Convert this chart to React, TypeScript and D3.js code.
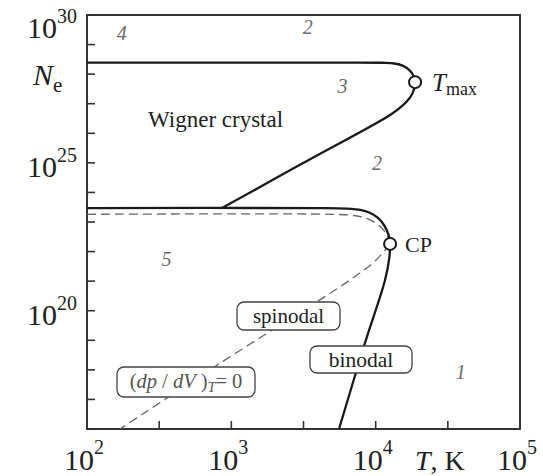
import React from "react";
import * as d3 from "d3";

// ---- Data (log10 values) ----
// Wigner crystal melting boundary (upper curve through T_max)
const meltLogT = [2.0, 3.6, 4.05, 4.13, 4.19, 4.235, 4.262, 4.273, 4.265, 4.24, 4.19, 4.1, 3.5, 2.935];
const meltLogN = [28.39, 28.39, 28.385, 28.36, 28.28, 28.13, 27.95, 27.73, 27.48, 27.22, 26.95, 26.62, 25.0, 23.47];

// Lower solid boundary (horizontal, curving into CP)
const lowerLogT = [2.0, 3.6, 3.8, 3.9, 3.96, 4.02, 4.06, 4.09, 4.1];
const lowerLogN = [23.47, 23.47, 23.45, 23.4, 23.31, 23.12, 22.88, 22.55, 22.26];

// Dashed (dp/dV)_T = 0 upper branch
const dashUpLogT = [2.0, 3.7, 3.85, 3.95, 4.03, 4.08, 4.1];
const dashUpLogN = [23.26, 23.26, 23.22, 23.1, 22.85, 22.55, 22.26];

// Spinodal (dashed) from CP downwards
const spinLogT = [4.1, 4.0, 3.822, 2.898, 2.229];
const spinLogN = [22.26, 21.7, 21.04, 18.15, 16.0];

// Binodal (solid) from CP downwards
const binLogT = [4.1, 4.095, 4.065, 3.926, 3.746];
const binLogN = [22.26, 21.8, 21.04, 18.91, 16.0];

// Special points
const pointNames = ["Tmax", "CP"];
const pointLogT = [4.273, 4.1];
const pointLogN = [27.73, 22.26];

// Axis ticks
const yMajorExp = [30, 25, 20];
const yTickExp = [16, 17, 18, 19, 20, 21, 22, 23, 24, 25, 26, 27, 28, 29, 30];
const xMajorExp = [2, 3, 4, 5];
const xTickExp = [2.5, 3, 3.5, 4, 4.5];

// Region numbers
const regionLabels = ["4", "2", "3", "2", "5", "1"];
const regionLogT = [2.24, 3.53, 3.77, 4.01, 2.55, 4.59];
const regionLogN = [29.15, 29.35, 27.35, 24.75, 21.5, 17.7];

const W = 543;
const H = 476;
const x = d3.scaleLog().domain([1e2, 1e5]).range([87, 520]);
const y = d3.scaleLog().domain([1e16, 1e30]).range([429, 15]);

const pts = (lt: number[], ln: number[]) => lt.map((t, i) => [Math.pow(10, t), Math.pow(10, ln[i])] as [number, number]);

const lineGen = d3
  .line<[number, number]>()
  .x((d) => x(d[0]))
  .y((d) => y(d[1]))
  .curve(d3.curveCatmullRom.alpha(0.5));

const FONT = "'Liberation Serif', 'Times New Roman', serif";

function Pow10({ px, py, exp, anchor, dy }: { px: number; py: number; exp: number; anchor: string; dy: number }) {
  return (
    <text x={px} y={py} textAnchor={anchor as any} fontFamily={FONT} fill="#222">
      <tspan fontSize={30}>10</tspan>
      <tspan fontSize={20} dy={dy}>{exp}</tspan>
    </text>
  );
}

function LabelBox({ x0, y0, w, h, children }: { x0: number; y0: number; w: number; h: number; children: any }) {
  return (
    <g>
      <rect x={x0} y={y0} width={w} height={h} rx={7} ry={7} fill="#fff" stroke="#444" strokeWidth={1.3} />
      {children}
    </g>
  );
}

export default function App() {
  const tmax = [x(Math.pow(10, pointLogT[0])), y(Math.pow(10, pointLogN[0]))];
  const cp = [x(Math.pow(10, pointLogT[1])), y(Math.pow(10, pointLogN[1]))];
  return (
    <svg width={W} height={H} style={{ position: "absolute", left: 0, top: 0, background: "#fff" }}>
      <rect x={0} y={0} width={W} height={H} fill="#fff" />
      {/* frame */}
      <rect x={87} y={15} width={433} height={414} fill="none" stroke="#333" strokeWidth={2} />
      {/* left ticks */}
      {yTickExp.map((e) => (
        <line key={"yt" + e} x1={87} x2={95} y1={y(Math.pow(10, e))} y2={y(Math.pow(10, e))} stroke="#333" strokeWidth={1.6} />
      ))}
      {/* bottom ticks */}
      {xTickExp.map((e) => (
        <line key={"xt" + e} x1={x(Math.pow(10, e))} x2={x(Math.pow(10, e))} y1={429} y2={421} stroke="#333" strokeWidth={1.6} />
      ))}

      {/* dashed curves */}
      <path d={lineGen(pts(dashUpLogT, dashUpLogN)) || ""} fill="none" stroke="#666" strokeWidth={1.3} strokeDasharray="9 5" />
      <path d={lineGen(pts(spinLogT, spinLogN)) || ""} fill="none" stroke="#666" strokeWidth={1.3} strokeDasharray="9 5" />

      {/* solid curves */}
      <path d={lineGen(pts(meltLogT, meltLogN)) || ""} fill="none" stroke="#1a1a1a" strokeWidth={2.3} />
      <path d={lineGen(pts(lowerLogT, lowerLogN)) || ""} fill="none" stroke="#1a1a1a" strokeWidth={2.3} />
      <path d={lineGen(pts(binLogT, binLogN)) || ""} fill="none" stroke="#1a1a1a" strokeWidth={2.3} />

      {/* special points */}
      {pointNames.map((n, i) => (
        <circle key={n} cx={x(Math.pow(10, pointLogT[i]))} cy={y(Math.pow(10, pointLogN[i]))} r={6} fill="#fff" stroke="#1a1a1a" strokeWidth={2} />
      ))}
      <text x={tmax[0] + 17} y={tmax[1] + 9} fontFamily={FONT} fill="#222">
        <tspan fontSize={25} fontStyle="italic">T</tspan>
        <tspan fontSize={18} dy={4}>max</tspan>
      </text>
      <text x={cp[0] + 15} y={cp[1] + 8} fontFamily={FONT} fontSize={22} fill="#222">CP</text>

      {/* region numbers */}
      {regionLabels.map((l, i) => (
        <text key={"r" + i} x={x(Math.pow(10, regionLogT[i]))} y={y(Math.pow(10, regionLogN[i]))} textAnchor="middle" fontFamily={FONT} fontStyle="italic" fontSize={20} fill="#6a6a6a">
          {l}
        </text>
      ))}

      <text x={148} y={127} fontFamily={FONT} fontSize={23} fill="#222">Wigner crystal</text>

      {/* label boxes */}
      <LabelBox x0={237} y0={302} w={103} h={28}>
        <text x={288.5} y={322.5} textAnchor="middle" fontFamily={FONT} fontSize={21} fill="#222">spinodal</text>
      </LabelBox>
      <LabelBox x0={310} y0={346} w={102} h={27}>
        <text x={361} y={366.5} textAnchor="middle" fontFamily={FONT} fontSize={21.5} fill="#222">binodal</text>
      </LabelBox>
      <LabelBox x0={117} y0={367} w={138} h={30}>
        <text x={186} y={388} textAnchor="middle" fontFamily={FONT} fontSize={20.5} fill="#555">
          <tspan>(</tspan>
          <tspan fontStyle="italic">dp</tspan>
          <tspan> / </tspan>
          <tspan fontStyle="italic">dV</tspan>
          <tspan> )</tspan>
          <tspan fontStyle="italic" fontSize={14} dy={4}>T</tspan>
          <tspan dy={-4}>= 0</tspan>
        </text>
      </LabelBox>

      {/* y axis labels */}
      {yMajorExp.map((e) => (
        <Pow10 key={"ym" + e} px={27} py={Math.max(38, y(Math.pow(10, e)) + 14)} exp={e} anchor="start" dy={-15} />
      ))}
      <text x={33} y={85} fontFamily={FONT} fill="#222">
        <tspan fontSize={30} fontStyle="italic">N</tspan>
        <tspan fontSize={21} dy={7}>e</tspan>
      </text>

      {/* x axis labels */}
      {xMajorExp.map((e) => (
        <Pow10 key={"xm" + e} px={x(Math.pow(10, e)) - 3} py={470} exp={e} anchor="middle" dy={-16} />
      ))}
      <text x={415} y={470} fontFamily={FONT} fill="#222" fontSize={28}>
        <tspan fontStyle="italic">T</tspan>
        <tspan>, K</tspan>
      </text>
    </svg>
  );
}
